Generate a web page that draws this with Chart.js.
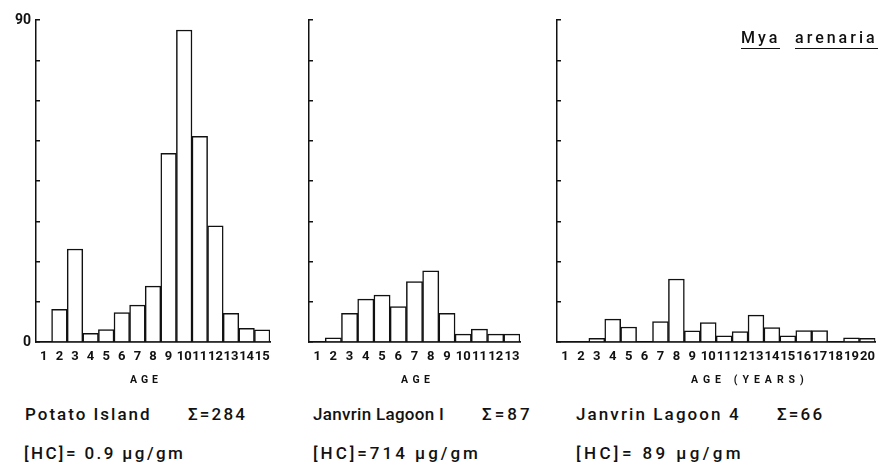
<!DOCTYPE html>
<html>
<head>
<meta charset="utf-8">
<script src="https://cdn.jsdelivr.net/npm/chart.js@4.4.1/dist/chart.umd.min.js"></script>
<style>
  body { margin: 0; background: #fff; }
  #fig { position: relative; width: 882px; height: 466px; overflow: hidden; background: #fff; color: #111; font-family: Roboto, sans-serif; }
  #fig canvas { position: absolute; top: 0; }
  .t { position: absolute; white-space: pre; line-height: 1; }
  .axis-title { font-size: 10.5px; font-weight: bold; top: 375px; }
  .site { font-size: 17px; font-weight: 500; }
  .row1 { top: 406px; }
  .row2 { top: 445px; }
  .species { top: 30px; font-size: 16px; font-weight: 500; letter-spacing: 3px; }
  .species span { display: inline-block; border-bottom: 1.5px solid #111; padding-bottom: 2px; }
</style>
</head>
<body>
<div id="fig">
  <canvas id="potato" width="282" height="395" style="left:0px"></canvas>
  <canvas id="lagoon1" width="240" height="395" style="left:290px"></canvas>
  <canvas id="lagoon4" width="347" height="395" style="left:535px"></canvas>

  <div class="t axis-title" style="left:130px; letter-spacing:4px">AGE</div>
  <div class="t axis-title" style="left:401px; letter-spacing:4.5px">AGE</div>
  <div class="t axis-title" style="left:691px; letter-spacing:5px">AGE (YEARS)</div>

  <div class="t species" style="left:741px"><span>Mya</span></div>
  <div class="t species" style="left:795px"><span>arenaria</span></div>

  <div class="t site row1" style="left:25px; letter-spacing:2px">Potato Island</div>
  <div class="t site row1" style="left:188px; letter-spacing:2.2px">Σ=284</div>
  <div class="t site row2" style="left:24px; letter-spacing:2.4px">[HC]= 0.9 μg/gm</div>

  <div class="t site row1" style="left:313px; letter-spacing:0.3px">Janvrin Lagoon I</div>
  <div class="t site row1" style="left:482px; letter-spacing:3px">Σ=87</div>
  <div class="t site row2" style="left:313px; letter-spacing:3px">[HC]=714 μg/gm</div>

  <div class="t site row1" style="left:576px; letter-spacing:2.1px">Janvrin Lagoon 4</div>
  <div class="t site row1" style="left:777px; letter-spacing:2.2px">Σ=66</div>
  <div class="t site row2" style="left:576px; letter-spacing:3.4px">[HC]= 89 μg/gm</div>
</div>
<script>
// age classes on each x axis
const potatoAges = ['1', '2', '3', '4', '5', '6', '7', '8', '9', '10', '11', '12', '13', '14', '15'];
const lagoon1Ages = ['1', '2', '3', '4', '5', '6', '7', '8', '9', '10', '11', '12', '13'];
const lagoon4Ages = ['1', '2', '3', '4', '5', '6', '7', '8', '9', '10', '11', '12', '13', '14', '15', '16', '17', '18', '19', '20'];

// number of clams in each age class
const potatoCounts = [0, 9.1, 26.0, 2.4, 3.5, 8.2, 10.3, 15.6, 52.7, 87.2, 57.5, 32.5, 8.0, 3.8, 3.4];
const lagoon1Counts = [0, 1.2, 8.0, 12.0, 13.1, 9.9, 16.9, 19.9, 8.0, 2.2, 3.6, 2.2, 2.2];
const lagoon4Counts = [0, 0, 1.0, 6.4, 4.2, 0, 5.7, 17.6, 3.1, 5.4, 1.7, 2.9, 7.5, 4.0, 1.7, 3.2, 3.2, 0, 1.2, 1.0];

// shared frequency axis
const yMax = 90;
const yStep = 11.25;
const yLabelled = [0, 90];

const ink = '#111';

function histogram(id, ages, counts, axisWidth, padRight, showYLabels) {
    return new Chart(document.getElementById(id), {
        type: 'bar',
        data: {
            labels: ages,
            datasets: [{
                data: counts,
                backgroundColor: '#fff',
                borderColor: ink,
                borderWidth: 1.5,
                borderSkipped: 'start',
                categoryPercentage: 1,
                barPercentage: 1
            }]
        },
        options: {
            responsive: false,
            animation: false,
            devicePixelRatio: 1,
            layout: { padding: { top: 20, right: padRight, bottom: 0, left: 0 } },
            plugins: {
                legend: { display: false },
                tooltip: { enabled: false }
            },
            scales: {
                x: {
                    offset: true,
                    grid: { display: false, drawTicks: false },
                    border: { display: true, color: ink, width: 1.8 },
                    ticks: {
                        autoSkip: false,
                        maxRotation: 0,
                        minRotation: 0,
                        padding: 7,
                        color: ink,
                        font: { family: 'Roboto', weight: 'bold', size: 13 }
                    },
                    afterFit: (scale) => { scale.height = 53; }
                },
                y: {
                    min: 0,
                    max: yMax,
                    grid: {
                        display: true,
                        drawOnChartArea: false,
                        drawTicks: true,
                        tickLength: -4,   // small marks pointing into the plot
                        color: ink,
                        lineWidth: 1.5
                    },
                    border: { display: true, color: ink, width: 1.5 },
                    ticks: {
                        stepSize: yStep,
                        padding: 9,
                        color: ink,
                        font: { family: 'Roboto', weight: 'bold', size: 14 },
                        callback: (v) => (showYLabels && yLabelled.includes(v)) ? String(v) : ''
                    },
                    afterFit: (scale) => { scale.width = axisWidth; }
                }
            }
        }
    });
}

histogram('potato', potatoAges, potatoCounts, 36, 12, true);
histogram('lagoon1', lagoon1Ages, lagoon1Counts, 19, 10, false);
histogram('lagoon4', lagoon4Ages, lagoon4Counts, 22, 5, false);
</script>
</body>
</html>
